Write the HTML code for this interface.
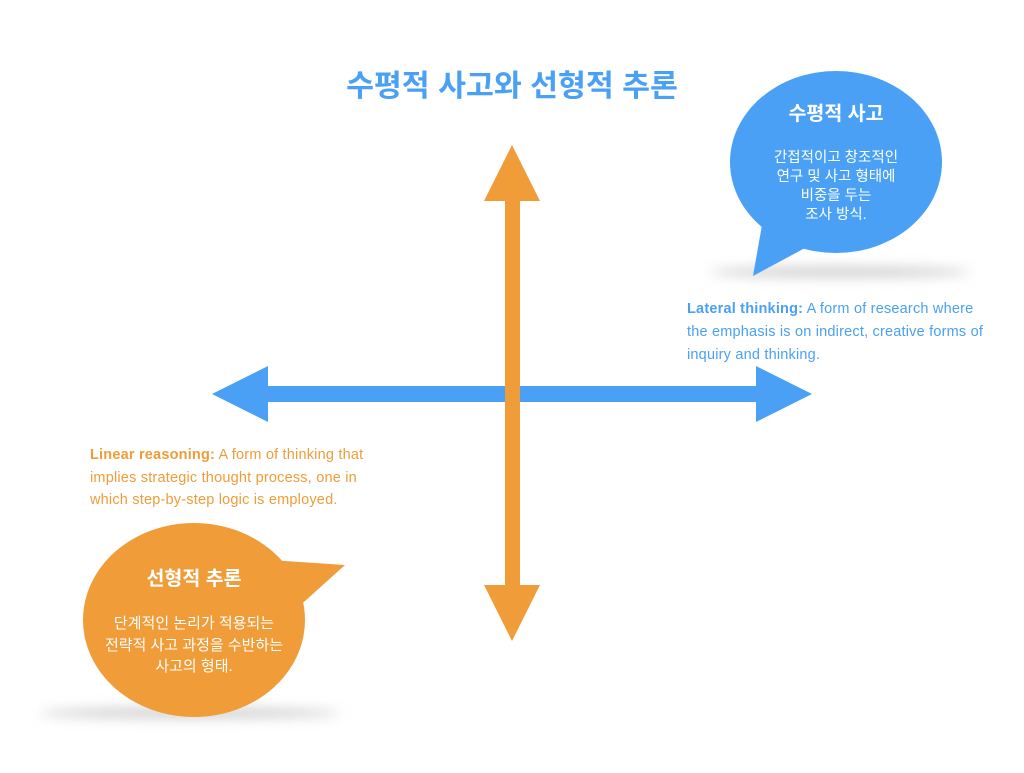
<!DOCTYPE html>
<html><head><meta charset="utf-8"><style>
body{margin:0;background:#fff;}
svg text{font-family:"Liberation Sans","Noto Sans CJK KR",sans-serif;}
</style></head><body>
<svg width="1024" height="768" viewBox="0 0 1024 768" xmlns="http://www.w3.org/2000/svg">
<defs>
<filter id="b" x="-50%" y="-200%" width="200%" height="500%"><feGaussianBlur stdDeviation="6"/></filter>
</defs>
<text x="512" y="96" text-anchor="middle" font-size="30.3" font-weight="bold" fill="#4aa0f5">수평적 사고와 선형적 추론</text>
<!-- shadows -->
<ellipse cx="840" cy="272" rx="130" ry="5" fill="#ccc" filter="url(#b)"/>
<ellipse cx="190" cy="713" rx="150" ry="5" fill="#ccc" filter="url(#b)"/>
<!-- blue bubble -->
<ellipse cx="836" cy="162" rx="106" ry="91" fill="#4aa0f5"/>
<polygon points="762,225 753,276 805,248" fill="#4aa0f5"/>
<text x="836" y="120" text-anchor="middle" font-size="19.5" font-weight="bold" fill="#fff">수평적 사고</text>
<g font-size="14.5" fill="#fff" text-anchor="middle">
<text x="836" y="162">간접적이고 창조적인</text>
<text x="836" y="181">연구 및 사고 형태에</text>
<text x="836" y="200">비중을 두는</text>
<text x="836" y="219">조사 방식.</text>
</g>
<!-- orange bubble -->
<ellipse cx="194" cy="620" rx="111" ry="97" fill="#f09c38"/>
<polygon points="270,560 345,565 295,610" fill="#f09c38"/>
<text x="194" y="585" text-anchor="middle" font-size="19.5" font-weight="bold" fill="#fff">선형적 추론</text>
<g font-size="15" fill="#fff" text-anchor="middle">
<text x="194" y="628">단계적인 논리가 적용되는</text>
<text x="194" y="650">전략적 사고 과정을 수반하는</text>
<text x="194" y="671">사고의 형태.</text>
</g>
<!-- text blocks -->
<g font-size="14.5" fill="#4aa0f5" letter-spacing="0.2">
<text x="687" y="313"><tspan font-weight="bold">Lateral thinking:</tspan> A form of research where</text>
<text x="687" y="336">the emphasis is on indirect, creative forms of</text>
<text x="687" y="359">inquiry and thinking.</text>
</g>
<g font-size="14.5" fill="#f09c38" letter-spacing="0.2">
<text x="90" y="459"><tspan font-weight="bold">Linear reasoning:</tspan> A form of thinking that</text>
<text x="90" y="482">implies strategic thought process, one in</text>
<text x="90" y="504">which step-by-step logic is employed.</text>
</g>
<!-- vertical arrow -->
<rect x="505" y="195" width="15" height="395" fill="#f09c38"/>
<polygon points="512,145 540,201 484,201" fill="#f09c38"/>
<polygon points="512,641 540,585 484,585" fill="#f09c38"/>
<!-- horizontal arrow -->
<rect x="262" y="386" width="500" height="16" fill="#4aa0f5"/>
<polygon points="212,394 268,366 268,422" fill="#4aa0f5"/>
<polygon points="812,394 756,366 756,422" fill="#4aa0f5"/>
<rect x="505" y="386" width="15" height="16" fill="#f09c38"/>
</svg>
</body></html>
